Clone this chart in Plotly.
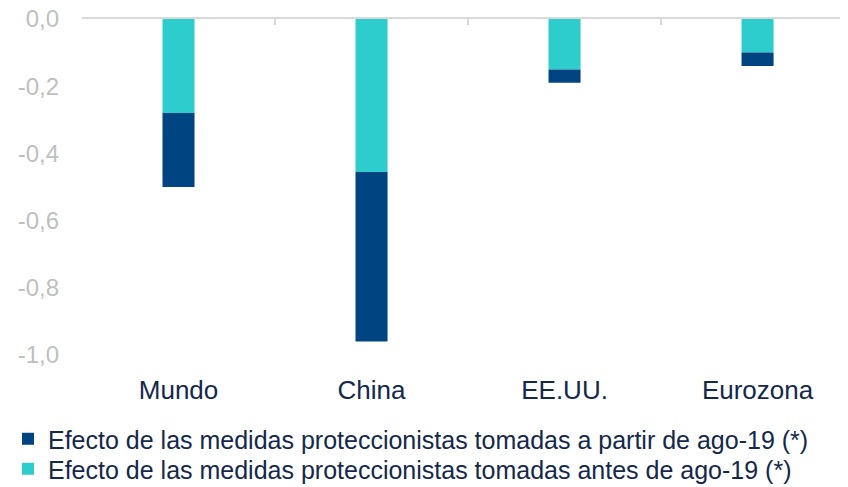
import plotly.graph_objects as go

regiones = ["Mundo", "China", "EE.UU.", "Eurozona"]
antes_ago19 = [-0.28, -0.455, -0.15, -0.10]
desde_ago19 = [-0.22, -0.505, -0.04, -0.04]

ticks_y = [0.0, -0.2, -0.4, -0.6, -0.8, -1.0]
etiquetas_y = ["0,0", "-0,2", "-0,4", "-0,6", "-0,8", "-1,0"]

nombre_antes = "Efecto de las medidas proteccionistas tomadas antes de ago-19 (*)"
nombre_desde = "Efecto de las medidas proteccionistas tomadas a partir de ago-19 (*)"

azul = "#004481"
turquesa = "#2ECDCD"
texto = "#14284B"
gris = "#BFBFBF"
fuente = "Liberation Sans"
rango_x = [-0.5, 3.51]

fig = go.Figure()
fig.add_trace(go.Bar(x=regiones, y=antes_ago19, name=nombre_antes,
                     marker=dict(color=turquesa, line=dict(width=0)),
                     legend="legend2"))
fig.add_trace(go.Bar(x=regiones, y=desde_ago19, name=nombre_desde,
                     marker=dict(color=azul, line=dict(width=0)),
                     legend="legend"))
# eje superior (linea del cero con marcas entre categorias)
fig.add_trace(go.Scatter(x=regiones, y=[0] * len(regiones), xaxis="x2",
                         mode="markers", marker=dict(opacity=0),
                         showlegend=False, hoverinfo="skip"))

leyenda = dict(orientation="v", x=0, xref="container", xanchor="left",
               yref="container", yanchor="middle",
               font=dict(size=25, color=texto), bgcolor="rgba(0,0,0,0)",
               itemwidth=30)

fig.update_layout(
    width=848, height=487,
    margin=dict(l=74, r=0, t=11, b=140, autoexpand=False),
    barmode="relative", bargap=0.834,
    plot_bgcolor="white", paper_bgcolor="white",
    font=dict(family=fuente, color=texto),
    showlegend=True,
    legend=dict(leyenda, y=1 - 431 / 487),
    legend2=dict(leyenda, y=1 - 461 / 487),
    xaxis=dict(type="category", categoryorder="array", categoryarray=regiones,
               range=rango_x, showline=False, showgrid=False, ticks="",
               tickfont=dict(size=26, color=texto), ticklabelstandoff=17),
    xaxis2=dict(type="category", categoryorder="array", categoryarray=regiones,
                overlaying="x", side="top", anchor="y", range=rango_x,
                showline=True, linecolor="#D9D9D9", linewidth=2,
                ticks="inside", tickson="boundaries", ticklen=6,
                tickcolor="#D9D9D9", tickwidth=2,
                showticklabels=False, showgrid=False),
    yaxis=dict(range=[-1.0, 0], tickvals=ticks_y, ticktext=etiquetas_y,
               showgrid=False, zeroline=False, showline=False,
               ticklabeloverflow="allow",
               tickfont=dict(size=24, color=gris), ticklabelstandoff=22),
)

fig.write_html("out.html")
